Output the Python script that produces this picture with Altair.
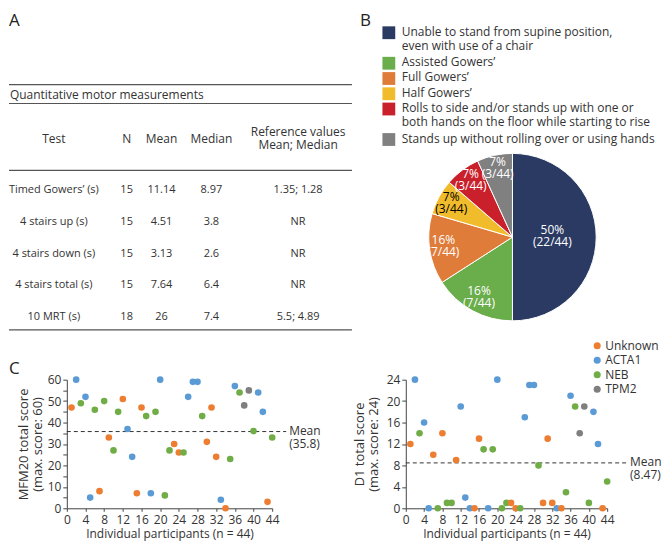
import altair as alt
import pandas as pd

FONT = "Open Sans"
INK = "#333333"
RULE = "#555555"

# ---------------- Panel A : table ----------------
table_title = "Quantitative motor measurements"
header_labels = ["Test", "N", "Mean", "Median", "Reference values\nMean; Median"]
tests = ["Timed Gowers’ (s)", "4 stairs up (s)", "4 stairs down (s)",
         "4 stairs total (s)", "10 MRT (s)"]
n_values = ["15", "15", "15", "15", "18"]
mean_values = ["11.14", "4.51", "3.13", "7.64", "26"]
median_values = ["8.97", "3.8", "2.6", "6.4", "7.4"]
reference_values = ["1.35; 1.28", "NR", "NR", "NR", "5.5; 4.89"]

# ---------------- Panel B : pie ----------------
rise_labels = [
    "Unable to stand from supine position,\neven with use of a chair",
    "Assisted Gowers’",
    "Full Gowers’",
    "Half Gowers’",
    "Rolls to side and/or stands up with one or\nboth hands on the floor while starting to rise",
    "Stands up without rolling over or using hands",
]
rise_counts = [22, 7, 6, 3, 3, 3]
rise_pct_labels = ["50%\n(22/44)", "16%\n(7/44)", "16%\n(7/44)",
                   "7%\n(3/44)", "7%\n(3/44)", "7%\n(3/44)"]
rise_colors = ["#2a3a63", "#6aad4b", "#e07c3a", "#f1bc2c", "#c9202b", "#808080"]

# ---------------- Panel C : scatter ----------------
participants = list(range(1, 45))
genotype_names = {"U": "Unknown", "A": "ACTA1", "N": "NEB", "T": "TPM2"}
genotypes = ["Unknown", "ACTA1", "NEB", "TPM2"]
genotype_colors = ["#ED7D31", "#5B9BD5", "#70AD47", "#7F7F7F"]

mfm_genotype = ["U", "A", "N", "A", "A", "N", "U", "N", "U", "N", "N", "U", "A", "A", "U",
                "U", "N", "A", "N", "A", "N", "N", "U", "U", "N", "A", "A", "A", "N", "U",
                "U", "U", "A", "U", "N", "A", "N", "T", "T", "N", "A", "A", "U", "N"]
mfm_score = [47, 60, 49, 52, 5, 46, 8, 50, 33, 27, 45, 51, 37, 24, 7,
             47, 43, 7, 45, 60, 6, 27, 30, 26, 26, 52, 59, 59, 43, 31,
             47, 24, 4, 0, 23, 57, 54, 48, 55, 36, 54, 45, 3, 33]
mfm_mean = [35.8]

d1_genotype = ["U", "A", "N", "A", "A", "U", "N", "U", "N", "N", "U", "A", "A", "A", "U",
               "U", "N", "A", "N", "A", "N", "N", "U", "U", "N", "A", "A", "A", "N", "U",
               "U", "U", "A", "U", "N", "A", "N", "T", "T", "N", "A", "A", "U", "N"]
d1_score = [12, 24, 14, 16, 0, 10, 0, 14, 1, 1, 9, 19, 2, 0, 0,
            13, 11, 0, 11, 24, 0, 1, 1, 0, 0, 17, 23, 23, 8, 1,
            13, 1, 0, 0, 3, 21, 19, 14, 19, 1, 18, 12, 0, 5]
d1_mean = [8.47]

one = pd.DataFrame({"k": [0]})
NOFRAME = alt.ViewBackground(stroke="transparent", strokeWidth=0)


def panel_label(letter, x, y):
    return alt.Chart(pd.DataFrame({"p": [letter]})).mark_text(
        fontSize=17, align="left", baseline="top", color="#222222"
    ).encode(x=alt.value(x), y=alt.value(y), text="p:N")


# layout (grid of 2x2, flush bounds)
C1W, C2W, CH = 206, 202, 129
H0 = 358
LEFT = -58

# ================= Panel A =================
rows_df = pd.DataFrame({"test": tests, "n": n_values, "mean": mean_values,
                        "median": median_values, "ref": reference_values})
row_y = alt.Y("test:N", axis=None,
              scale=alt.Scale(type="point", domain=tests, range=[178, 305], padding=0))

col_x = {"test": -13, "n": 60, "mean": 95, "median": 145, "ref": 232}
a_layers = [panel_label("A", LEFT, 0)]
for yy in [72, 91, 158, 318]:
    a_layers.append(alt.Chart(one).mark_rule(color=RULE, strokeWidth=1.2).encode(
        y=alt.value(yy), x=alt.value(LEFT), x2=alt.value(286)))
a_layers.append(alt.Chart(pd.DataFrame({"t": [table_title]})).mark_text(
    fontSize=12, align="left", baseline="middle", color=INK
).encode(x=alt.value(LEFT + 1), y=alt.value(82), text="t:N"))
for lbl, xpos in zip(header_labels, col_x.values()):
    nl = lbl.count("\n") + 1
    a_layers.append(alt.Chart(pd.DataFrame({"h": [lbl]})).mark_text(
        fontSize=12, align="center", baseline="top", lineBreak="\n", lineHeight=13, color=INK
    ).encode(x=alt.value(xpos), y=alt.value(121.3 - (nl - 1) * 6.5), text="h:N"))
for field, xpos in col_x.items():
    a_layers.append(alt.Chart(rows_df).mark_text(
        fontSize=11, align="center", baseline="middle", color=INK
    ).encode(x=alt.value(xpos), y=row_y, text=f"{field}:N"))
panel_a = alt.layer(*a_layers).properties(width=C1W, height=H0, view=NOFRAME)

# ================= Panel B =================
line_counts = [lbl.count("\n") + 1 for lbl in rise_labels]
line_start = [sum(line_counts[:i]) for i in range(len(rise_labels))]
leg_df = pd.DataFrame({"label": rise_labels, "start": line_start})
rise_scale = alt.Scale(domain=rise_labels, range=rise_colors)
leg_y = alt.Y("start:Q", axis=None,
              scale=alt.Scale(domain=[0, 1], range=[20, 35.3], nice=False, zero=False))

leg_sq = alt.Chart(leg_df).mark_square(size=165, opacity=1).encode(
    x=alt.value(-17), y=leg_y, color=alt.Color("label:N", scale=rise_scale, legend=None))
leg_tx = alt.Chart(leg_df).mark_text(
    fontSize=12, align="left", baseline="top", lineBreak="\n", lineHeight=14.5, dy=-6, color=INK
).encode(x=alt.value(-4), y=leg_y, text="label:N")

pie_df = pd.DataFrame({"label": rise_labels, "n": rise_counts,
                       "pct": rise_pct_labels, "idx": list(range(len(rise_labels)))})
CX, CY = 107, 225
arc = alt.Chart(pie_df).mark_arc(outerRadius=84, stroke="white", strokeWidth=1).encode(
    theta=alt.Theta("n:Q", stack=True),
    order=alt.Order("idx:Q"),
    color=alt.Color("label:N", scale=rise_scale, legend=None),
    x=alt.value(CX), y=alt.value(CY))
pie_base = alt.Chart(pie_df).transform_window(
    cum="sum(n)", sort=[alt.SortField("idx", order="ascending")], frame=[None, 0]
).transform_calculate(mid="datum.cum - datum.n / 2")
pie_big = pie_base.transform_filter(alt.datum.idx == 0).mark_text(
    radius=40, fontSize=12, align="center", baseline="top", lineBreak="\n", lineHeight=12, dy=-12
).encode(theta=alt.Theta("mid:Q", stack=None), text="pct:N",
         color=alt.value("white"), x=alt.value(CX), y=alt.value(CY))
pie_small = pie_base.transform_filter(alt.datum.idx > 0).mark_text(
    radius=70, fontSize=12, align="center", baseline="top", lineBreak="\n", lineHeight=12, dy=-12
).encode(theta=alt.Theta("mid:Q", stack=None), text="pct:N",
         color=alt.condition(alt.datum.idx == 3, alt.value("black"), alt.value("white")),
         x=alt.value(CX), y=alt.value(CY))
panel_b = alt.layer(panel_label("B", -46, 0), leg_sq, leg_tx, arc, pie_big, pie_small).properties(
    width=C2W, height=H0, view=NOFRAME)

# ================= Panel C =================
geno_scale = alt.Scale(domain=genotypes, range=genotype_colors)


def scatter(geno, scores, mean, title_lines, y_max, y_step, width, height,
            legend, ext, title_pad, label=None):
    df = pd.DataFrame({"participant": participants, "score": scores,
                       "genotype": [genotype_names[g] for g in geno]})
    x_enc = alt.X("participant:Q", scale=alt.Scale(domain=[0, 44], nice=False),
                  axis=alt.Axis(values=list(range(0, 45, 4)), title="Individual participants (n = 44)",
                                labelAngle=0, labelFontSize=12, labelColor=INK, labelPadding=3,
                                labelFlush=False, tickSize=3, tickColor="#444", domainColor="#444",
                                titleFontSize=12, titleFontWeight="normal", titleColor=INK,
                                titlePadding=3, grid=False))
    y_enc = alt.Y("score:Q", scale=alt.Scale(domain=[0, y_max], nice=False),
                  axis=alt.Axis(values=list(range(0, y_max + 1, y_step)), title=title_lines,
                                labelFontSize=12, labelColor=INK, labelPadding=2, labelFlush=False,
                                tickSize=4, tickColor="#444", domainColor="#444",
                                titleFontSize=13, titleFontWeight="normal", titleColor=INK,
                                titleLineHeight=14, titlePadding=title_pad, grid=False))
    pts = alt.Chart(df).mark_circle(size=44, opacity=1).encode(
        x=x_enc, y=y_enc,
        color=alt.Color("genotype:N", scale=geno_scale, legend=legend))
    mdf = pd.DataFrame({"score": mean})
    rule = alt.Chart(mdf).mark_rule(strokeDash=[4, 3], strokeWidth=1, color="#333").encode(
        y=y_enc, x=alt.value(0), x2=alt.value(width + ext))
    mtxt = alt.Chart(mdf).transform_calculate(
        lab="'Mean\\n(' + datum.score + ')'"
    ).mark_text(fontSize=12, align="left", baseline="top", lineBreak="\n", lineHeight=13,
                dy=-6, color=INK).encode(y=y_enc, x=alt.value(width + ext + 3), text="lab:N")
    layers = [rule, pts, mtxt]
    if label:
        layers.append(panel_label(label, LEFT, -19))
    return alt.layer(*layers).properties(width=width, height=height, view=NOFRAME)


panel_c1 = scatter(mfm_genotype, mfm_score, mfm_mean, ["MFM20 total score", "(max. score: 60)"],
                   60, 5, C1W, CH, None, 14, 3, label="C")
c2_legend = alt.Legend(orient="none", legendX=186, legendY=-40, title=None, labelFontSize=12,
                       labelColor=INK, symbolType="circle", symbolSize=50, rowPadding=2.5,
                       labelOffset=2, padding=0, symbolStrokeWidth=0)
panel_c2 = scatter(d1_genotype, d1_score, d1_mean, ["D1 total score", "(max. score: 24)"],
                   24, 4, C2W, CH, c2_legend, 20, 6)

chart = alt.concat(
    panel_a, panel_b, panel_c1, panel_c2, columns=2,
    spacing=alt.RowColnumber(row=10, column=134), bounds="flush", align="each",
    padding={"top": 3, "left": 0, "right": 0, "bottom": 3}
).resolve_scale(color="independent").configure_view(
    stroke="transparent", strokeWidth=0).configure(font=FONT)

chart.save("out.html", embed_options={"renderer": "svg", "actions": False})
